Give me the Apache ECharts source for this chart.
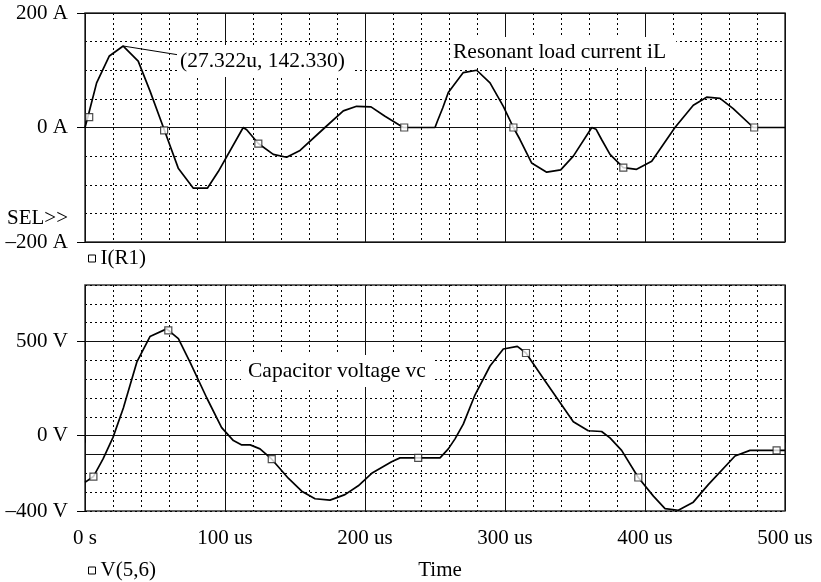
<!DOCTYPE html>
<html>
<head>
<meta charset="utf-8">
<script src="https://cdn.jsdelivr.net/npm/echarts@6/dist/echarts.min.js"></script>
<style>
html,body{margin:0;padding:0;background:#fff;}
#chart{width:821px;height:582px;}
</style>
</head>
<body>
<div id="chart"></div>
<script>
// ---- data ----
var iTime = [0, 2, 8.3, 17.4, 27.3, 38, 46.4, 56, 66.6, 77.4, 87.4, 95.2, 113, 115.5, 123.8, 134.5, 144, 153.6, 171.4, 184.5, 194, 204.3, 214, 227.4, 250, 251.7, 255.5, 259.5, 270.2, 279.8, 289.3, 298.8, 306, 310.7, 319, 329.8, 339.8, 348.8, 362, 365, 369, 375, 384.5, 394, 404.8, 421.4, 434.5, 444, 453.6, 463, 477.4, 500];
var iAmp  = [0, 18, 78, 125, 142.3, 116, 64, 0, -71, -106, -106, -77, 0, -4, -28, -47, -52, -40, 0, 29, 37, 36, 20, 0, 0, 11, 34, 61, 96, 100, 78, 37, 0, -21, -62, -78, -74, -50, 0, -3, -21, -47, -70, -73, -59, 0, 39, 53, 51, 33, 0, 0];
var iMarkTime = [3, 56.5, 123.8, 228, 306, 384.5, 478];
var iMarkAmp  = [18, -5, -28, 0, 0, -70, 0];

var vTime = [0, 6, 13, 20, 27.4, 37, 46.4, 58.3, 66.7, 75, 87, 97.6, 106, 112, 118, 125, 133.4, 145.2, 154.8, 164.3, 175, 185.7, 195.2, 204.8, 219, 225, 253.6, 259.5, 264.3, 270.2, 278.6, 289.3, 298.8, 308.8, 315, 327.4, 348.8, 359.5, 369, 375, 383.3, 395.2, 406, 414.3, 423.8, 434.5, 445.2, 464.3, 475, 500];
var vVolt = [-248, -217, -122, -9, 147, 390, 526, 567, 515, 390, 200, 43, -26, -49, -49, -70, -125, -226, -295, -335, -342, -313, -266, -200, -139, -118, -118, -70, -17, 61, 217, 370, 460, 474, 439, 304, 74, 26, 22, -12, -78, -222, -321, -387, -396, -353, -260, -108, -78, -78];
var vMarkTime = [6, 59.5, 133.4, 238, 315, 395.2, 494];
var vMarkVolt = [-217, 559, -125, -118, 439, -222, -78];

var xTicks = [0, 100, 200, 300, 400, 500];
var iTicks = [-200, 0, 200];
var vTicks = [-400, 0, 500];
var vSolidLines = [500, 0, -100];
var peak = [27.322, 142.33];
var peakLabel = '(27.322u, 142.330)';

function pairs(a, b) { return a.map(function (v, i) { return [v, b[i]]; }); }

var FONT = '"Liberation Serif", "DejaVu Serif", serif';
var FS = 21;
var FA = 21.5;
var dotted = { color: '#000', width: 1, type: [2, 3] };
var solid = { color: '#111', width: 1 };

var chart = echarts.init(document.getElementById('chart'), null, { renderer: 'canvas' });

var option = {
  animation: false,
  backgroundColor: '#fff',
  textStyle: { fontFamily: FONT, color: '#000' },
  grid: [
    { left: 85, top: 13, width: 700, height: 229, show: true, borderColor: '#333', borderWidth: 1.5, backgroundColor: 'transparent' },
    { left: 85, top: 285, width: 700, height: 230, show: true, borderColor: '#333', borderWidth: 1.5, backgroundColor: 'transparent' }
  ],
  xAxis: [
    { type: 'value', gridIndex: 0, min: 0, max: 500, interval: 100,
      axisLine: { show: false }, axisTick: { show: false }, axisLabel: { show: false },
      splitLine: { show: true, lineStyle: solid },
      minorTick: { show: false, splitNumber: 5 },
      minorSplitLine: { show: true, lineStyle: dotted } },
    { type: 'value', gridIndex: 1, min: 0, max: 500, interval: 100,
      axisLine: { show: false },
      axisTick: { show: true, length: 7, lineStyle: { color: '#000' } },
      axisLabel: { show: true, margin: 17, fontSize: FS, fontFamily: FONT, color: '#000',
        formatter: function (v) { return v === 0 ? '0 s' : v + ' us'; } },
      splitLine: { show: true, lineStyle: solid },
      minorTick: { show: false, splitNumber: 5 },
      minorSplitLine: { show: true, lineStyle: dotted },
      name: 'Time', nameLocation: 'middle', nameGap: 49,
      nameTextStyle: { fontSize: FS, fontFamily: FONT, color: '#000', padding: [0, 0, 0, 10] } }
  ],
  yAxis: [
    { type: 'value', gridIndex: 0, min: -200, max: 200, interval: 200, position: 'left',
      axisLine: { show: false },
      axisTick: { show: true, length: 8, lineStyle: { color: '#000' } },
      axisLabel: { show: true, margin: 17, fontSize: FS, fontFamily: FONT, color: '#000',
        formatter: function (v) { return (v < 0 ? '\u2013' + (-v) : v) + ' A'; } },
      splitLine: { show: true, lineStyle: solid },
      minorTick: { show: false, splitNumber: 4 },
      minorSplitLine: { show: true, lineStyle: dotted } },
    { type: 'value', gridIndex: 1, min: -400, max: 800, interval: 100, position: 'left',
      axisLine: { show: false }, axisTick: { show: false }, axisLabel: { show: false },
      splitLine: { show: true, lineStyle: dotted } },
    { type: 'value', gridIndex: 1, min: -400, max: 800, interval: 100, position: 'left', offset: 0,
      axisLine: { show: false },
      axisTick: { show: true, length: 8, customValues: vTicks, lineStyle: { color: '#000' } },
      axisLabel: { show: true, margin: 17, fontSize: FS, fontFamily: FONT, color: '#000', customValues: vTicks,
        formatter: function (v) { return (v < 0 ? '\u2013' + (-v) : v) + ' V'; } },
      splitLine: { show: false } }
  ],
  legend: [
    { left: 88, top: 248, padding: 0, itemWidth: 7, itemHeight: 7, itemGap: 6, selectedMode: false,
      textStyle: { fontSize: FS, fontFamily: FONT, color: '#000' },
      data: [{ name: 'I(R1)', icon: 'rect', itemStyle: { color: '#fff', borderColor: '#000', borderWidth: 1 } }] },
    { left: 88, top: 560, padding: 0, itemWidth: 7, itemHeight: 7, itemGap: 6, selectedMode: false,
      textStyle: { fontSize: FS, fontFamily: FONT, color: '#000' },
      data: [{ name: 'V(5,6)', icon: 'rect', itemStyle: { color: '#fff', borderColor: '#000', borderWidth: 1 } }] }
  ],
  series: [
    { name: 'I(R1)', type: 'line', xAxisIndex: 0, yAxisIndex: 0, data: pairs(iTime, iAmp),
      showSymbol: false, symbol: 'none', lineStyle: { color: '#000', width: 1.7 }, itemStyle: { color: '#000' }, z: 5,
      markLine: { silent: true, symbol: ['none', 'none'], label: { show: false },
        lineStyle: { color: '#000', type: 'solid', width: 1 },
        data: [[{ coord: peak }, { coord: [66.4, 127] }]] } },
    { name: 'I(R1)', type: 'scatter', xAxisIndex: 0, yAxisIndex: 0, data: pairs(iMarkTime, iMarkAmp),
      symbol: 'rect', symbolSize: 7, itemStyle: { color: '#fff', borderColor: '#222', borderWidth: 1.2 }, z: 6 },
    { name: 'V(5,6)', type: 'line', xAxisIndex: 1, yAxisIndex: 1, data: pairs(vTime, vVolt),
      showSymbol: false, symbol: 'none', lineStyle: { color: '#000', width: 1.7 }, itemStyle: { color: '#000' }, z: 5,
      markLine: { silent: true, symbol: ['none', 'none'], label: { show: false },
        lineStyle: { color: '#111', type: 'solid', width: 1 },
        data: vSolidLines.map(function (v) { return { yAxis: v }; }) } },
    { name: 'V(5,6)', type: 'scatter', xAxisIndex: 1, yAxisIndex: 1, data: pairs(vMarkTime, vMarkVolt),
      symbol: 'rect', symbolSize: 7, itemStyle: { color: '#fff', borderColor: '#222', borderWidth: 1.2 }, z: 6 }
  ],
  graphic: [
    { type: 'text', left: 177, top: 45, z: 100,
      style: { text: peakLabel, font: FA + 'px ' + FONT, fill: '#000', backgroundColor: '#fff', padding: [5, 8, 5, 3] } },
    { type: 'text', left: 450, top: 37, z: 100,
      style: { text: 'Resonant load current iL', font: FA + 'px ' + FONT, fill: '#000', backgroundColor: '#fff', padding: [4, 10, 4, 3] } },
    { type: 'text', left: 241, top: 355, z: 100,
      style: { text: 'Capacitor voltage vc', font: FA + 'px ' + FONT, fill: '#000', backgroundColor: '#fff', padding: [5, 7, 5, 7] } },
    { type: 'text', right: 821 - 68, top: 208, z: 100,
      style: { text: 'SEL>>', font: FS + 'px ' + FONT, fill: '#000' } }
  ]
};
chart.setOption(option);
</script>
</body>
</html>
